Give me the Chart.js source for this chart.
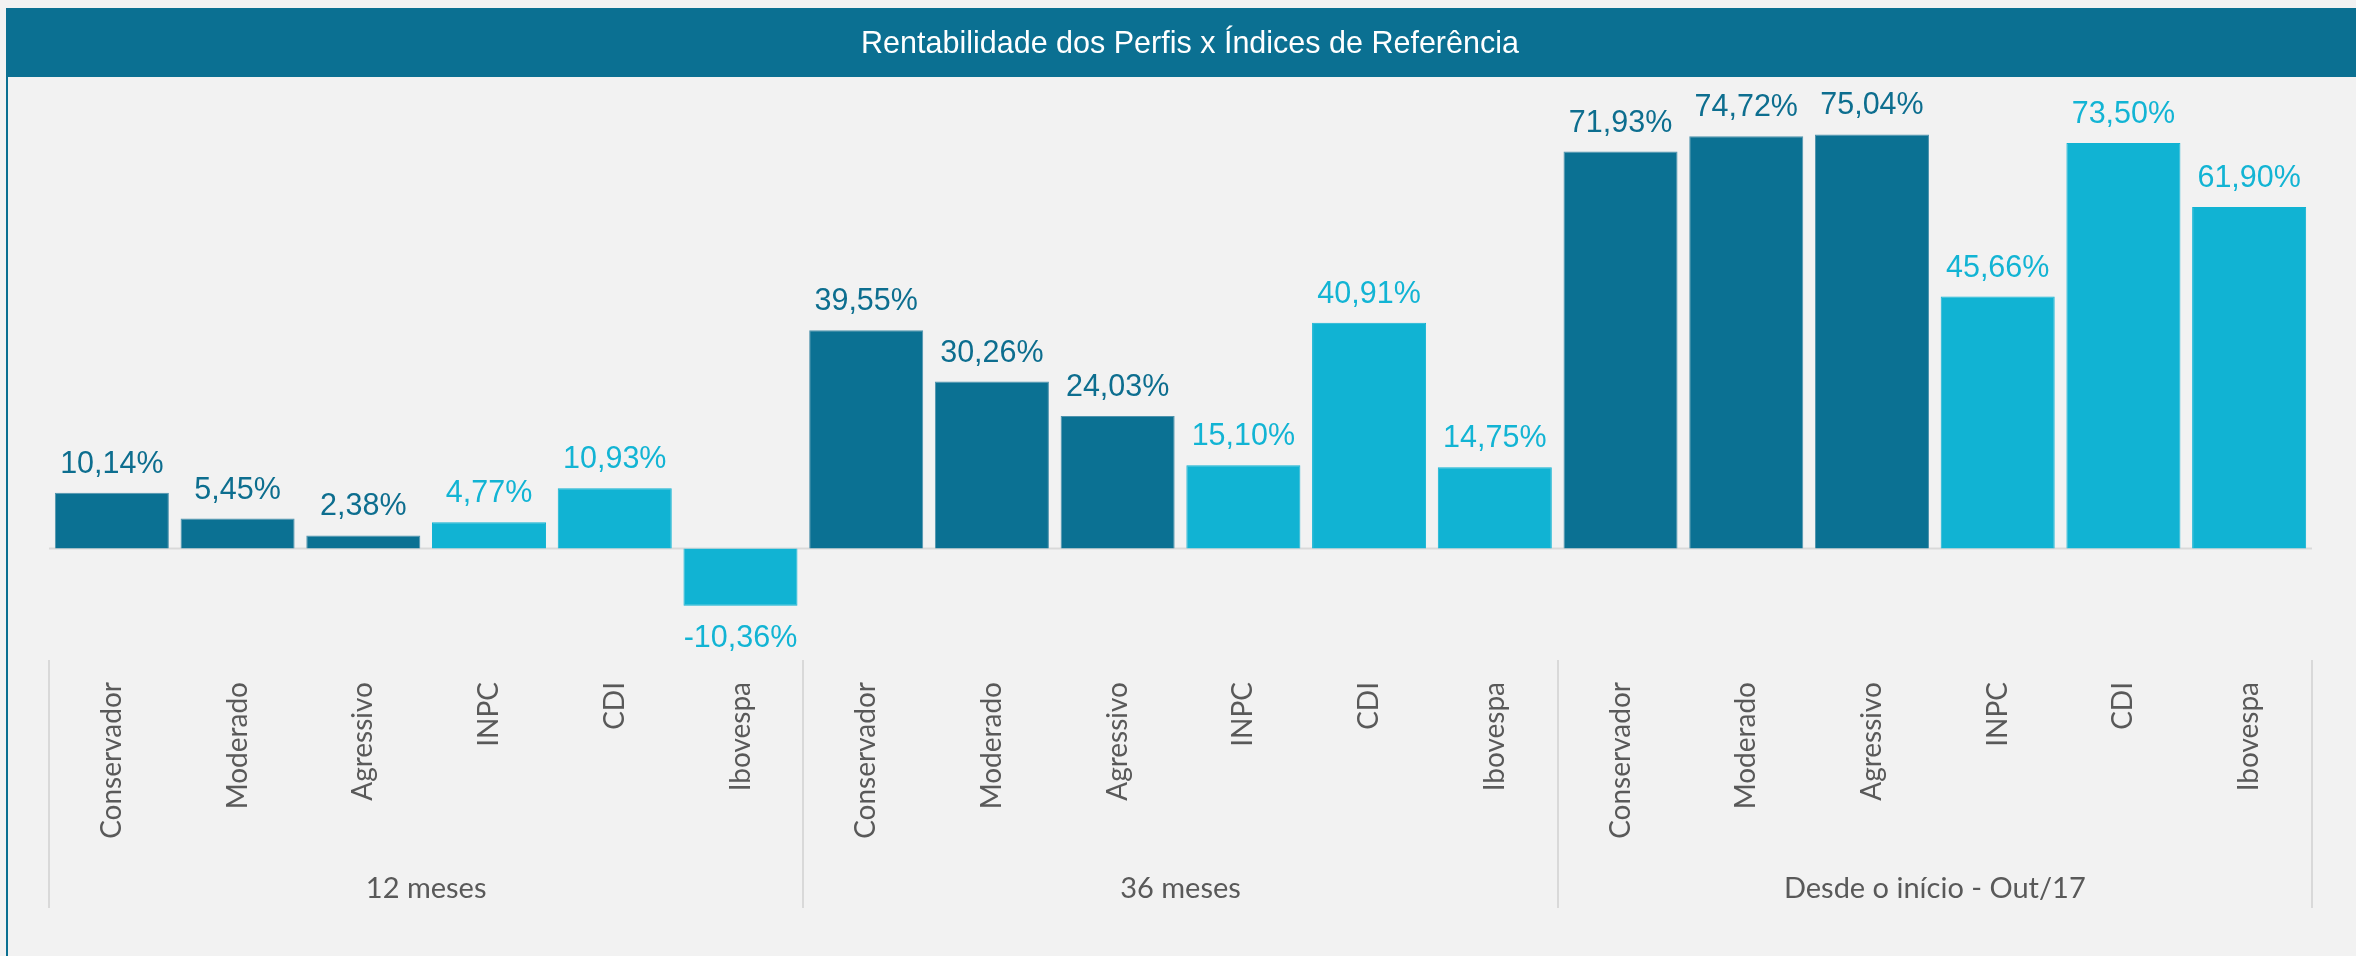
<!DOCTYPE html>
<html>
<head>
<meta charset="utf-8">
<script src="https://cdn.jsdelivr.net/npm/chart.js@4/dist/chart.umd.min.js"></script>
<style>
  body { margin: 0; background: #f2f2f2; }
  canvas { display: block; }
</style>
</head>
<body>
<canvas id="rentabilidade-chart" width="2356" height="956"></canvas>
<script>
var titulo = 'Rentabilidade dos Perfis x Índices de Referência';
var periodos = ['12 meses', '36 meses', 'Desde o início - Out/17'];
var itens = ['Conservador', 'Moderado', 'Agressivo', 'INPC', 'CDI', 'Ibovespa'];
var tipos = ['perfil', 'perfil', 'perfil', 'indice', 'indice', 'indice'];
var valores12 = [10.14, 5.45, 2.38, 4.77, 10.93, -10.36];
var valores36 = [39.55, 30.26, 24.03, 15.10, 40.91, 14.75];
var valoresInicio = [71.93, 74.72, 75.04, 45.66, 73.50, 61.90];

var corPerfil = '#0b7193';
var corIndice = '#11b3d3';
var corTexto = '#595959';
var corLinha = '#d9d9d9';

var labels = [];
var dados = [];
var cores = [];
var bordas = [];
[valores12, valores36, valoresInicio].forEach(function (serie) {
    serie.forEach(function (v, i) {
        labels.push(itens[i]);
        dados.push(v);
        cores.push(tipos[i] === 'perfil' ? corPerfil : corIndice);
        bordas.push(tipos[i] === 'perfil' ? '#4f93ad' : corIndice);
    });
});

function formata(v) {
    return v.toFixed(2).replace('.', ',') + '%';
}

var decoracao = {
    id: 'decoracao',
    beforeDraw: function (chart) {
        var ctx = chart.ctx;
        ctx.save();
        ctx.fillStyle = '#f2f2f2';
        ctx.fillRect(0, 0, chart.width, chart.height);
        // barra do titulo
        ctx.fillStyle = '#0b7092';
        ctx.fillRect(6, 8, chart.width - 6, 69);
        ctx.fillRect(6, 8, 2, chart.height - 8);
        ctx.fillStyle = '#ffffff';
        ctx.font = '30.5px "Liberation Sans", Arial, sans-serif';
        ctx.textAlign = 'center';
        ctx.textBaseline = 'alphabetic';
        ctx.fillText(titulo, 1190, 53);
        ctx.restore();
    },
    beforeDatasetsDraw: function (chart) {
        var ctx = chart.ctx;
        var area = chart.chartArea;
        var y0 = chart.scales.y.getPixelForValue(0);
        ctx.save();
        ctx.strokeStyle = corLinha;
        ctx.lineWidth = 2;
        ctx.beginPath();
        ctx.moveTo(area.left, y0);
        ctx.lineTo(area.right, y0);
        ctx.stroke();
        ctx.restore();
    },
    afterDraw: function (chart) {
        var ctx = chart.ctx;
        var area = chart.chartArea;
        var x = chart.scales.x;
        var meta = chart.getDatasetMeta(0);
        ctx.save();

        // rotulos de valor
        ctx.font = '30.5px "Liberation Sans", Arial, sans-serif';
        ctx.textAlign = 'center';
        ctx.textBaseline = 'alphabetic';
        meta.data.forEach(function (bar, i) {
            var v = dados[i];
            ctx.fillStyle = cores[i] === corPerfil ? '#0d6e8f' : '#12b4d4';
            if (v >= 0) {
                ctx.fillText(formata(v), bar.x, bar.y - 20);
            } else {
                ctx.fillText(formata(v), bar.x, bar.y + 41);
            }
        });

        // separadores dos grupos
        ctx.strokeStyle = corLinha;
        ctx.lineWidth = 2;
        var passo = (area.right - area.left) / labels.length;
        for (var g = 0; g <= periodos.length; g++) {
            var xs = Math.round(area.left + g * itens.length * passo);
            ctx.beginPath();
            ctx.moveTo(xs, area.bottom + 1);
            ctx.lineTo(xs, 908);
            ctx.stroke();
        }

        // rotulos das categorias (verticais)
        ctx.fillStyle = corTexto;
        ctx.font = '28px Lato, "Open Sans", sans-serif';
        labels.forEach(function (lab, i) {
            ctx.save();
            ctx.translate(x.getPixelForValue(i), 682);
            ctx.rotate(-Math.PI / 2);
            ctx.textAlign = 'right';
            ctx.textBaseline = 'middle';
            ctx.fillText(lab, 0, 0);
            ctx.restore();
        });

        // rotulos dos periodos
        ctx.font = '29px Lato, "Open Sans", sans-serif';
        ctx.textAlign = 'center';
        ctx.textBaseline = 'alphabetic';
        periodos.forEach(function (p, g) {
            var xc = area.left + (g + 0.5) * itens.length * passo;
            ctx.fillText(p, xc, 898);
        });
        ctx.restore();
    }
};

var ctx = document.getElementById('rentabilidade-chart').getContext('2d');
var chart = new Chart(ctx, {
    type: 'bar',
    data: {
        labels: labels,
        datasets: [{
            data: dados,
            backgroundColor: cores,
            borderColor: bordas,
            borderWidth: 1,
            categoryPercentage: 1,
            barPercentage: 0.907
        }]
    },
    options: {
        responsive: false,
        animation: false,
        layout: {
            padding: { left: 49, right: 44, top: 107, bottom: 297 }
        },
        plugins: {
            legend: { display: false },
            title: { display: false },
            tooltip: { enabled: false }
        },
        scales: {
            x: { display: false },
            y: { display: false, min: -20, max: 80 }
        }
    },
    plugins: [decoracao]
});
</script>
</body>
</html>
